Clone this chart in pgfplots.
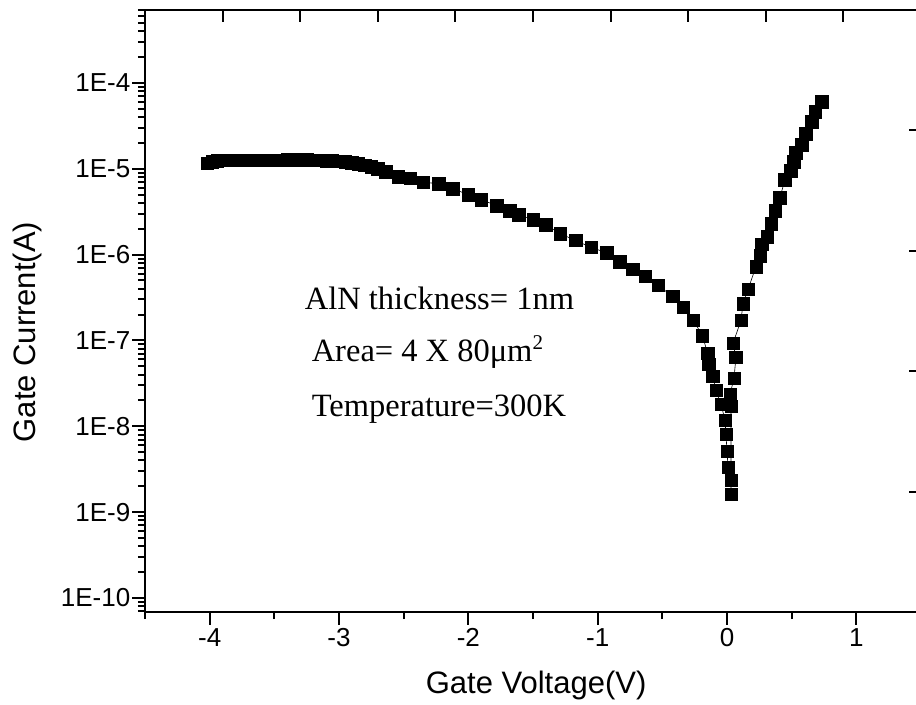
\documentclass[border=0pt]{standalone}
\usepackage{fontspec}
\setmainfont{Liberation Sans}
\newfontfamily\serif{Liberation Serif}
\usepackage{pgfplots}
\pgfplotsset{compat=1.18}

\begin{document}
\begin{tikzpicture}
  % main log axis: bottom and left ticks point outwards
  \begin{axis}[
      name=main,
      scale only axis,
      width=776pt, height=602pt,
      xmin=-4.5, xmax=1.5,
      ymode=log, ymin=6.87e-11, ymax=7.06e-4,
      xtick={-4,-3,-2,-1,0,1},
      xticklabels={-4,-3,-2,-1,0,1},
      minor xtick={-4.5,-3.5,-2.5,-1.5,-0.5,0.5,1.5},
      ytick={1e-10,1e-9,1e-8,1e-7,1e-6,1e-5,1e-4},
      yticklabels={1E-10,1E-9,1E-8,1E-7,1E-6,1E-5,1E-4},
      minor ytick={7e-11,8e-11,9e-11,
        2e-10,3e-10,4e-10,5e-10,6e-10,7e-10,8e-10,9e-10,
        2e-9,3e-9,4e-9,5e-9,6e-9,7e-9,8e-9,9e-9,
        2e-8,3e-8,4e-8,5e-8,6e-8,7e-8,8e-8,9e-8,
        2e-7,3e-7,4e-7,5e-7,6e-7,7e-7,8e-7,9e-7,
        2e-6,3e-6,4e-6,5e-6,6e-6,7e-6,8e-6,9e-6,
        2e-5,3e-5,4e-5,5e-5,6e-5,7e-5,8e-5,9e-5,
        2e-4,3e-4,4e-4,5e-4,6e-4,7e-4},
      xtick pos=left, ytick pos=left,
      tick align=outside,
      major tick length=12.5pt, minor tick length=7pt,
      every tick/.style={black, line width=2pt},
      axis line style={line width=2.6pt},
      ticklabel style={font=\fontsize{26}{28}\selectfont},
      yticklabel style={inner sep=2pt},
      xticklabel style={inner sep=4pt},
      xlabel={Gate Voltage(V)},
      ylabel={Gate Current(A)},
      label style={font=\fontsize{31}{33}\selectfont},
      xlabel style={at={(axis description cs:0.504,-0.1213)}, anchor=center},
      ylabel style={at={(axis description cs:-0.152,0.465)}, anchor=center},
    ]
    \addplot[black, line width=0.6pt, mark=square*,
      mark size=6.2pt, mark options={solid, line width=0.5pt, fill=black}]
      coordinates {
      (-4.02,1.16e-5) (-3.98,1.21e-5) (-3.94,1.24e-5) (-3.90,1.26e-5)
      (-3.85,1.26e-5) (-3.80,1.26e-5) (-3.75,1.26e-5) (-3.70,1.26e-5)
      (-3.65,1.26e-5) (-3.60,1.26e-5) (-3.55,1.26e-5) (-3.50,1.26e-5)
      (-3.45,1.26e-5) (-3.40,1.27e-5) (-3.35,1.29e-5) (-3.30,1.27e-5)
      (-3.25,1.27e-5) (-3.20,1.26e-5) (-3.15,1.26e-5) (-3.10,1.24e-5)
      (-3.05,1.24e-5) (-3.00,1.22e-5) (-2.95,1.21e-5) (-2.90,1.17e-5)
      (-2.85,1.14e-5) (-2.80,1.10e-5) (-2.75,1.06e-5) (-2.70,1.00e-5)
      (-2.64,9.23e-6) (-2.54,8.07e-6) (-2.45,7.76e-6) (-2.35,6.97e-6)
      (-2.23,6.69e-6) (-2.12,5.85e-6) (-2.00,4.99e-6) (-1.90,4.36e-6)
      (-1.78,3.72e-6) (-1.68,3.25e-6) (-1.61,2.92e-6) (-1.50,2.55e-6)
      (-1.40,2.23e-6) (-1.29,1.75e-6) (-1.17,1.46e-6) (-1.05,1.21e-6)
      (-0.93,1.05e-6) (-0.83,8.29e-7) (-0.73,6.70e-7) (-0.63,5.55e-7)
      (-0.53,4.36e-7) (-0.42,3.25e-7) (-0.34,2.42e-7) (-0.26,1.71e-7)
      (-0.19,1.14e-7) (-0.15,7.06e-8) (-0.14,5.26e-8) (-0.11,3.81e-8)
      (-0.085,2.62e-8) (-0.046,1.80e-8) (-0.015,1.17e-8) (-0.008,8.07e-9)
      (0.0,5.12e-9) (0.008,3.33e-9) (0.031,2.35e-9) (0.031,1.62e-9)
      (0.031,1.71e-8) (0.023,2.36e-8) (0.054,3.61e-8) (0.069,6.34e-8)
      (0.046,9.23e-8) (0.108,1.71e-7) (0.124,2.69e-7) (0.162,3.92e-7)
      (0.224,7.25e-7) (0.255,9.73e-7) (0.270,1.31e-6) (0.309,1.62e-6)
      (0.340,2.29e-6) (0.371,3.25e-6) (0.409,4.60e-6) (0.448,7.45e-6)
      (0.494,9.48e-6) (0.517,1.21e-5) (0.533,1.53e-5) (0.579,1.90e-5)
      (0.610,2.55e-5) (0.656,3.52e-5) (0.680,4.61e-5) (0.734,6.01e-5)
      };
    \node[anchor=base west, inner sep=0pt, font=\serif\fontsize{32.5}{34}\selectfont]
      at (axis cs:-3.266,2.29e-7) {AlN thickness= 1nm};
    \node[anchor=base west, inner sep=0pt, font=\serif\fontsize{32.5}{34}\selectfont]
      at (axis cs:-3.212,5.70e-8)
      {Area= 4 X 80μm\raisebox{12pt}{\fontsize{21}{21}\selectfont 2}};
    \node[anchor=base west, inner sep=0pt, font=\serif\fontsize{32.5}{34}\selectfont]
      at (axis cs:-3.212,1.31e-8) {Temperature=300K};
    \coordinate (sw) at (rel axis cs:0,0);
    \coordinate (ne) at (rel axis cs:1,1);
  \end{axis}
  % second frame: top and right ticks point inwards
  \begin{axis}[
      scale only axis,
      width=776pt, height=602pt,
      xmin=0, xmax=10, ymin=0, ymax=5,
      xtick={1,2,3,4,5,6,7,8,9}, ytick={1,2,3,4},
      xticklabels={}, yticklabels={},
      xtick pos=right, ytick pos=right,
      tick align=inside,
      major tick length=12pt,
      every tick/.style={black, line width=2pt},
      axis line style={line width=2.6pt},
    ]
  \end{axis}
  \pgfresetboundingbox
  \useasboundingbox ([shift={(-145pt,-92pt)}]sw) rectangle ([shift={(-5pt,10pt)}]ne);
\end{tikzpicture}
\end{document}
